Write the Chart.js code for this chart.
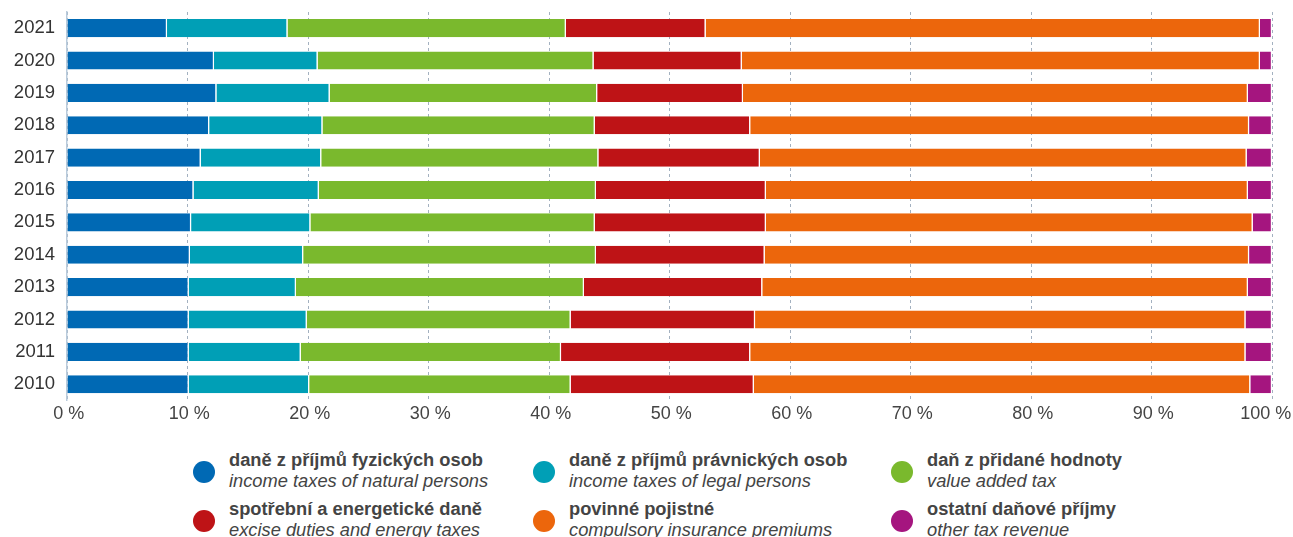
<!DOCTYPE html>
<html>
<head>
<meta charset="utf-8">
<script src="https://cdn.jsdelivr.net/npm/chart.js@4/dist/chart.umd.min.js"></script>
<style>
  body { margin: 0; background: #fff; font-family: "Liberation Sans", Arial, sans-serif; overflow: hidden; }
  #wrap { position: relative; width: 1293px; height: 428px; }
  .legend { position: absolute; top: 449px; left: 0; width: 1293px; height: 88px; }
  .item { position: absolute; color: #444; font-size: 18.3px; line-height: 21px; white-space: nowrap; }
  .item b { display: block; font-weight: bold; }
  .item i { display: block; font-style: italic; }
  .dot { position: absolute; left: -36px; top: 12px; width: 22px; height: 22px; border-radius: 50%; }
</style>
</head>
<body>
<div id="wrap"><canvas id="taxChart"></canvas></div>
<div class="legend" id="legend"></div>
<script>
var years = ["2021", "2020", "2019", "2018", "2017", "2016", "2015", "2014", "2013", "2012", "2011", "2010"];
var xTicks = [0, 10, 20, 30, 40, 50, 60, 70, 80, 90, 100];

var naturalPersons = [8.3, 12.2, 12.4, 11.8, 11.1, 10.5, 10.3, 10.2, 10.1, 10.1, 10.1, 10.1];
var legalPersons   = [10.0, 8.6, 9.4, 9.4, 10.0, 10.4, 9.9, 9.4, 8.9, 9.8, 9.3, 10.0];
var vat            = [23.1, 22.9, 22.2, 22.6, 23.0, 23.0, 23.6, 24.3, 23.9, 21.9, 21.6, 21.7];
var excise         = [11.6, 12.3, 12.1, 12.9, 13.4, 14.1, 14.2, 14.0, 14.8, 15.3, 15.7, 15.2];
var insurance      = [46.0, 43.0, 41.9, 41.4, 40.4, 40.0, 40.4, 40.2, 40.3, 40.7, 41.1, 41.2];
var otherTax       = [1.0, 1.0, 2.0, 1.9, 2.1, 2.0, 1.6, 1.9, 2.0, 2.2, 2.2, 1.8];

var seriesCz = ["daně z příjmů fyzických osob", "daně z příjmů právnických osob", "daň z přidané hodnoty",
  "spotřební a energetické daně", "povinné pojistné", "ostatní daňové příjmy"];
var seriesEn = ["income taxes of natural persons", "income taxes of legal persons", "value added tax",
  "excise duties and energy taxes", "compulsory insurance premiums", "other tax revenue"];
var colors = ["#0069b4", "#009fb6", "#7ab92d", "#be1316", "#ec660c", "#a5157f"];
var values = [naturalPersons, legalPersons, vat, excise, insurance, otherTax];

// legend, laid out like the original: 3 columns, 2 rows
var legendPos = [[229, 0], [569, 0], [927, 0], [229, 49], [569, 49], [927, 49]];
var legend = document.getElementById("legend");
seriesCz.forEach(function (name, k) {
  var d = document.createElement("div");
  d.className = "item";
  d.style.left = legendPos[k][0] + "px";
  d.style.top = legendPos[k][1] + "px";
  d.innerHTML = '<span class="dot" style="background:' + colors[k] + '"></span><b>' + name + '</b><i>' + seriesEn[k] + '</i>';
  legend.appendChild(d);
});

Chart.defaults.font.family = "Liberation Sans";
Chart.defaults.font.size = 18;
Chart.defaults.color = "#444";

var ctx = document.getElementById("taxChart");
new Chart(ctx, {
  type: "bar",
  data: {
    labels: years,
    datasets: values.map(function (v, i) {
      return {
        label: seriesCz[i],
        data: v,
        backgroundColor: colors[i],
        borderColor: "#ffffff",
        borderWidth: { top: 0, bottom: 0, left: 0, right: 1.2 },
        borderSkipped: false,
        barPercentage: 0.56,
        categoryPercentage: 1.0
      };
    })
  },
  options: {
    indexAxis: "y",
    responsive: true,
    maintainAspectRatio: false,
    animation: false,
    layout: { padding: { top: 12, right: 0, bottom: 0, left: 0 } },
    plugins: { legend: { display: false }, tooltip: { enabled: false } },
    scales: {
      x: {
        stacked: true,
        min: 0,
        max: 100,
        afterBuildTicks: function (axis) {
          axis.ticks = xTicks.map(function (t) { return { value: t }; });
        },
        afterFit: function (scale) { scale.paddingRight = 21; scale.paddingLeft = 0; },
        ticks: {
          color: "#444",
          padding: 3,
          font: { size: 18 },
          // last label is nudged left so it stays inside the page, as in the original
          callback: function (v) { return "\u2009" + v + " %" + (v === 100 ? "\u2002\u2009\u2009" : ""); }
        },
        grid: { color: "#a3b1c0", drawTicks: false, tickLength: 0 },
        border: { display: false, dash: [3, 3] }
      },
      y: {
        stacked: true,
        afterFit: function (scale) { scale.width = 67; scale.paddingTop = 0; scale.paddingBottom = 0; },
        ticks: { color: "#333", padding: 4, font: { size: 18.5 } },
        grid: { display: false },
        border: { display: true, color: "#b9cbdc", width: 1.5 }
      }
    }
  }
});
</script>
</body>
</html>
